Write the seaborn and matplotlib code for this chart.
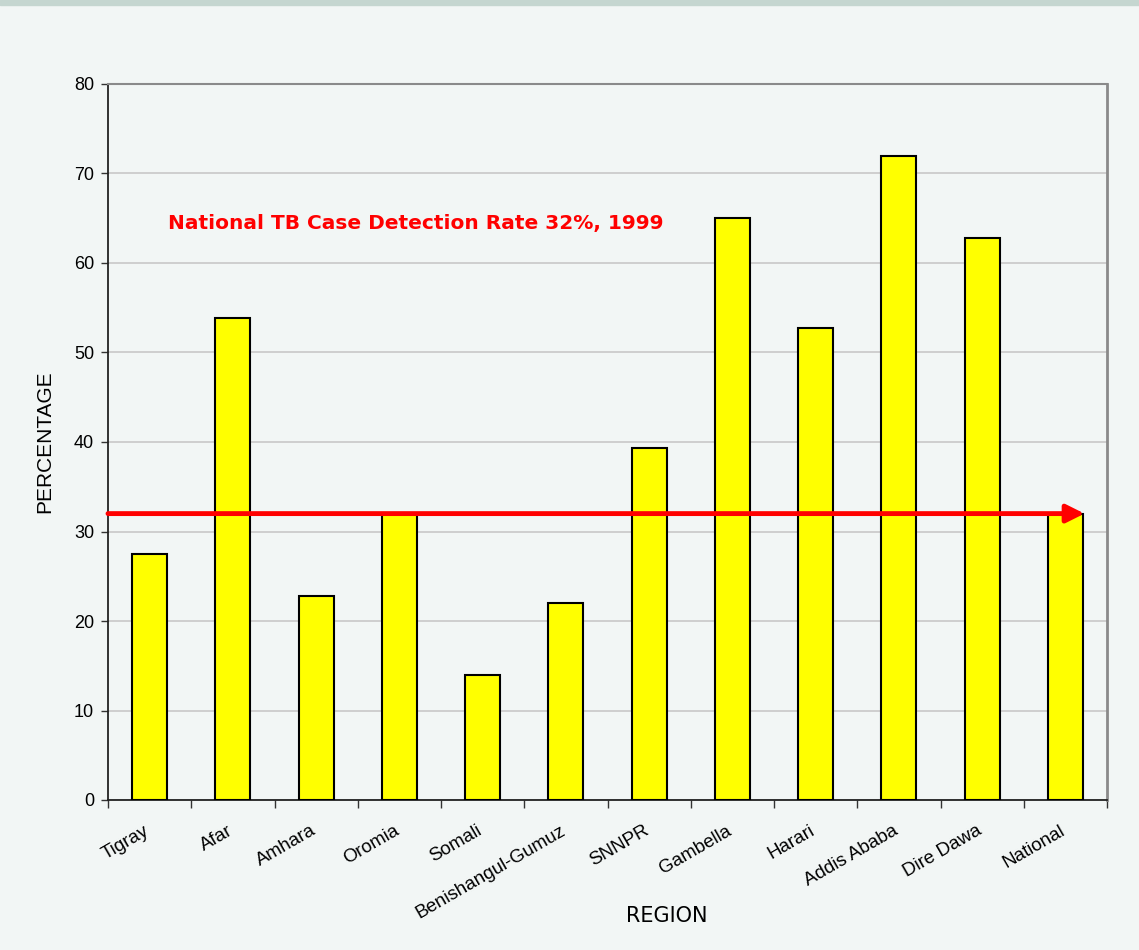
import matplotlib
matplotlib.use("Agg")
import matplotlib.pyplot as plt
import matplotlib.transforms as mtransforms
import seaborn as sns
import pandas as pd

regions = ["Tigray", "Afar", "Amhara", "Oromia", "Somali", "Benishangul-Gumuz",
           "SNNPR", "Gambella", "Harari", "Addis Ababa", "Dire Dawa", "National"]
detection_rate = [27.5, 53.8, 22.8, 31.9, 14.0, 22.0, 39.3, 65.0, 52.7, 72.0, 62.8, 31.9]
national_rate = 32
title_text = "National TB Case Detection Rate 32%, 1999"

df = pd.DataFrame({"region": regions, "rate": detection_rate})

sns.set_theme(style="white")
plt.rcParams["font.family"] = ["Liberation Sans", "DejaVu Sans"]

bg = "#F2F6F5"
fig = plt.figure(figsize=(11.39, 9.5), dpi=100, facecolor=bg)
ax = fig.add_axes([108 / 1139, 150 / 950, 999 / 1139, 716 / 950])
ax.set_facecolor(bg)

sns.barplot(data=df, x="region", y="rate", color="#FFFF00", saturation=1,
            width=0.42, edgecolor="black", linewidth=1.5, ax=ax, zorder=3)

ax.set_ylim(0, 80)
ax.set_xlim(-0.5, len(regions) - 0.5)
ax.set_yticks(range(0, 81, 10))
ax.yaxis.grid(True, color="#C8C8C8", linewidth=1.2, zorder=0)
ax.set_axisbelow(True)

# category labels; tick marks sit at category boundaries
ax.set_xticks(range(len(regions)))
ax.set_xticklabels(regions, rotation=30, ha="right", rotation_mode="anchor",
                   fontsize=13.5, color="black")
ax.tick_params(axis="x", which="major", length=0, pad=16)
nudge = mtransforms.ScaledTranslation(-6 / 100, 0, fig.dpi_scale_trans)
for lab in ax.get_xticklabels():
    lab.set_transform(lab.get_transform() + nudge)
ax.set_xticks([i - 0.5 for i in range(len(regions) + 1)], minor=True)
ax.tick_params(axis="x", which="minor", length=6, width=1, color="#333333",
               direction="out", bottom=True)
ax.tick_params(axis="y", length=5, width=1, color="#333333", direction="out",
               left=True, labelsize=13, labelcolor="black", pad=5)

for side in ["left", "bottom"]:
    ax.spines[side].set_color("#222222")
    ax.spines[side].set_linewidth(1.3)
ax.spines["right"].set_color("#8A8A8A")
ax.spines["right"].set_linewidth(2)
ax.spines["top"].set_color("#8A8A8A")
ax.spines["top"].set_linewidth(1.5)

ax.set_ylabel("PERCENTAGE", fontsize=15, labelpad=14, color="black")
ax.set_xlabel("REGION", fontsize=15, family=["DejaVu Sans"], color="black")
ax.xaxis.set_label_coords(0.559, -0.148)

# national average arrow
ax.annotate("", xy=(len(regions) - 0.5 - 0.27, national_rate), xytext=(-0.5, national_rate),
            arrowprops=dict(arrowstyle="-|>,head_length=0.9,head_width=0.45",
                            color="#FF0000", lw=3.5, shrinkA=0, shrinkB=0), zorder=5)

ax.text(0.22, 64.4, title_text, color="#FF0000", fontsize=14.5, fontweight="bold",
        family=["DejaVu Sans"], va="center", ha="left", zorder=6)

# header band
fig.patches.append(plt.Rectangle((0, 1 - 5 / 950), 1, 5 / 950, transform=fig.transFigure,
                                 color="#C5D6D0", zorder=0))

fig.savefig("out.png", dpi=100, facecolor=bg)
